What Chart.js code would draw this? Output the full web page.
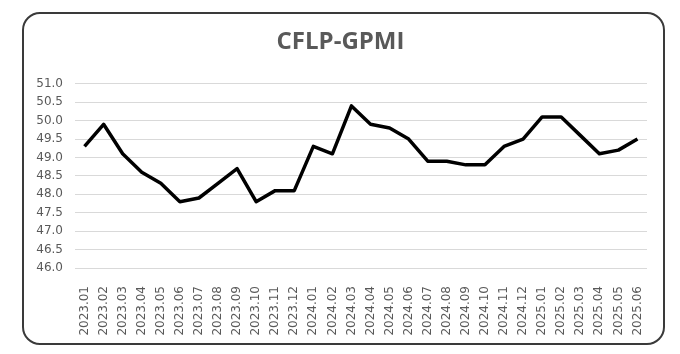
<!DOCTYPE html>
<html>
<head>
<meta charset="utf-8">
<script src="https://cdn.jsdelivr.net/npm/chart.js@4/dist/chart.umd.min.js"></script>
<style>
  html, body { margin: 0; padding: 0; background: #fff; }
  #marco {
    position: absolute; left: 22px; top: 12px;
    width: 639px; height: 329px;
    border: 2px solid #3a3a3a; border-radius: 18px;
    background: #fff;
  }
  #grafico { display: block; }
</style>
</head>
<body>
<div id="marco"><canvas id="grafico" width="639" height="329"></canvas></div>
<script>
// Meses del indice
const meses = [
  '2023.01', '2023.02', '2023.03', '2023.04', '2023.05', '2023.06',
  '2023.07', '2023.08', '2023.09', '2023.10', '2023.11', '2023.12',
  '2024.01', '2024.02', '2024.03', '2024.04', '2024.05', '2024.06',
  '2024.07', '2024.08', '2024.09', '2024.10', '2024.11', '2024.12',
  '2025.01', '2025.02', '2025.03', '2025.04', '2025.05', '2025.06'
];

// Valores CFLP-GPMI
const gpmi = [
  49.3, 49.9, 49.1, 48.6, 48.3, 47.8,
  47.9, 48.3, 48.7, 47.8, 48.1, 48.1,
  49.3, 49.1, 50.4, 49.9, 49.8, 49.5,
  48.9, 48.9, 48.8, 48.8, 49.3, 49.5,
  50.1, 50.1, 49.6, 49.1, 49.2, 49.5
];

// Marcas del eje vertical
const ejeY = ['46.0', '46.5', '47.0', '47.5', '48.0', '48.5', '49.0', '49.5', '50.0', '50.5', '51.0'];

const gris = '#595959';

document.addEventListener('DOMContentLoaded', function() {
    const ctx = document.getElementById('grafico').getContext('2d');

    new Chart(ctx, {
        type: 'line',
        data: {
            labels: meses,
            datasets: [{
                label: 'CFLP-GPMI',
                data: gpmi,
                borderColor: '#000',
                borderWidth: 3.5,
                borderJoinStyle: 'round',
                pointRadius: 0,
                tension: 0,
                fill: false
            }]
        },
        options: {
            responsive: false,
            animation: false,
            // padding casi simetrico para que el titulo quede centrado en el marco
            layout: { padding: { top: 0, right: 16, bottom: 0, left: 10 } },
            plugins: {
                legend: { display: false },
                tooltip: { enabled: false },
                title: {
                    display: true,
                    text: 'CFLP-GPMI',
                    color: gris,
                    font: { family: 'Open Sans', size: 24, weight: 'bold' },
                    padding: { top: 14, bottom: 27 }
                }
            },
            scales: {
                x: {
                    offset: true,
                    grid: { display: false },
                    border: { display: false },
                    ticks: {
                        color: gris,
                        font: { family: 'DejaVu Sans', size: 12 },
                        minRotation: 90,
                        maxRotation: 90,
                        autoSkip: false,
                        padding: 10
                    },
                    afterFit: function(scale) { scale.height = 75; }
                },
                y: {
                    min: 46,
                    max: 51,
                    border: { display: false },
                    grid: { color: '#d9d9d9', lineWidth: 1, drawTicks: false },
                    ticks: {
                        stepSize: 0.5,
                        color: gris,
                        font: { family: 'DejaVu Sans', size: 12 },
                        padding: 12,
                        callback: function(valor, i) { return ejeY[i]; }
                    },
                    afterFit: function(scale) { scale.width = 41; }
                }
            }
        }
    });
});
</script>
</body>
</html>
